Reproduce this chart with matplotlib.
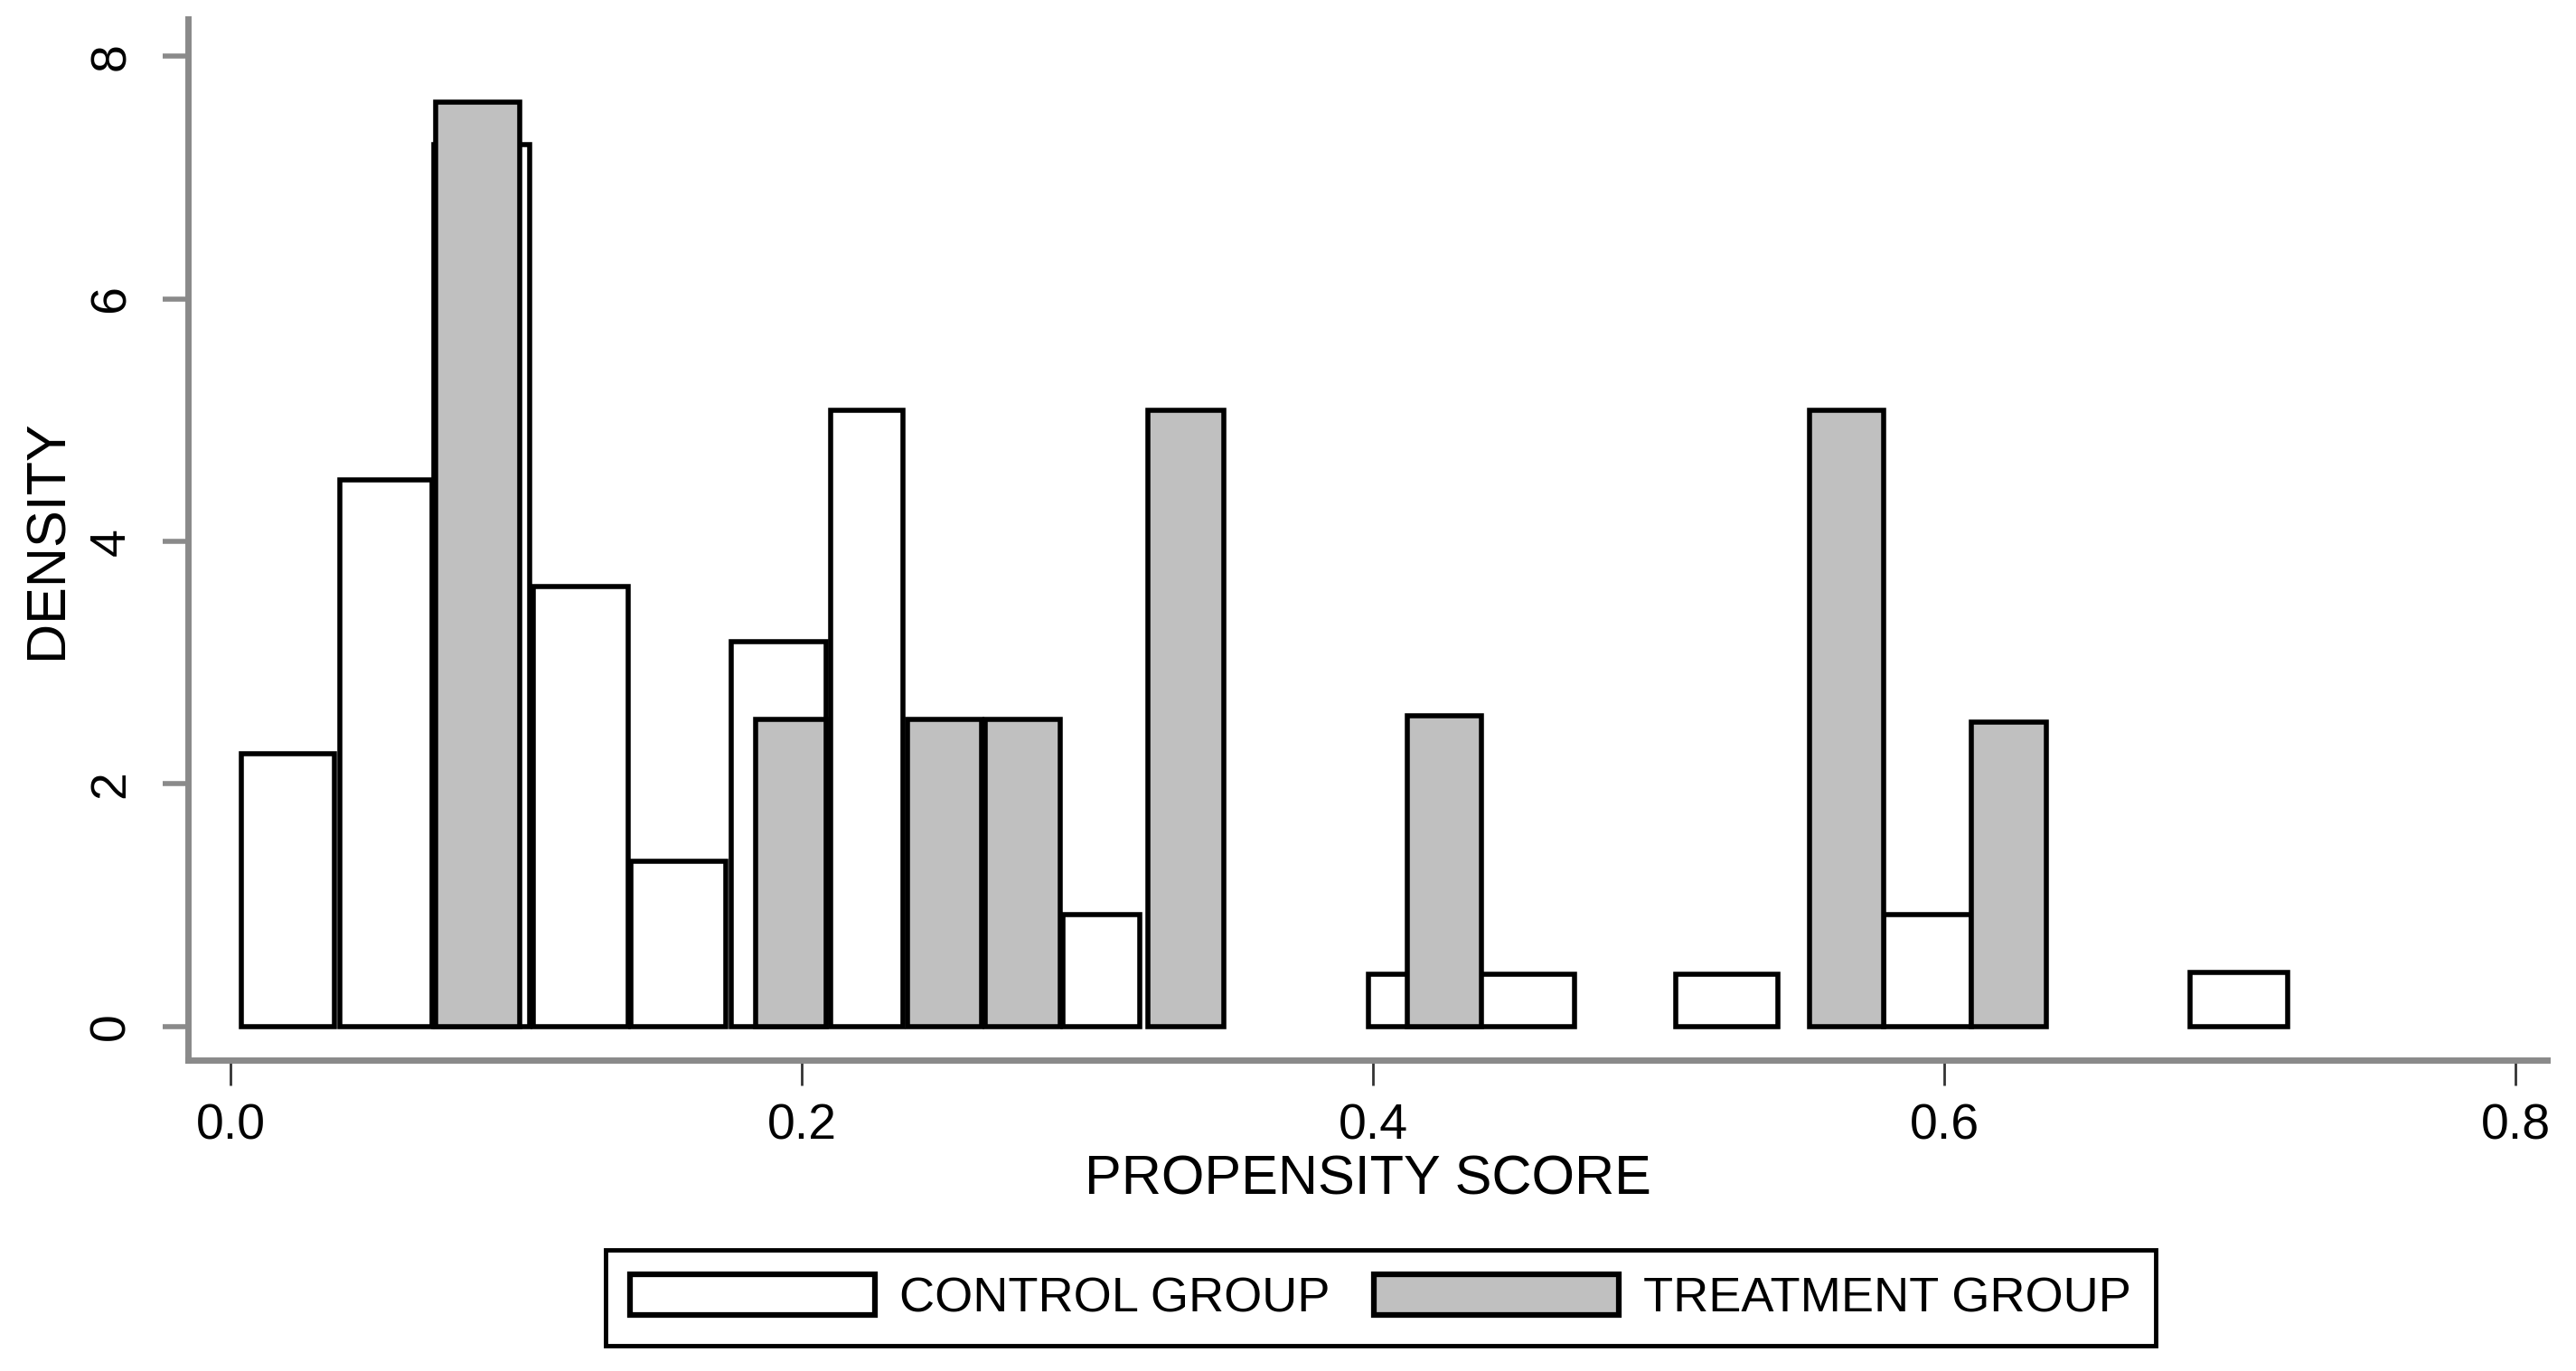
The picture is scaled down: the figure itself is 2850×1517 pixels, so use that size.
import matplotlib
matplotlib.use("Agg")
import matplotlib.pyplot as plt
from matplotlib import font_manager
from matplotlib.patches import Patch

# bin edges (propensity score) and densities
control_left = [0.0037, 0.0380, 0.0712, 0.1060, 0.1402, 0.1753, 0.2099, 0.2912, 0.3982, 0.5059, 0.5787, 0.6860]
control_right = [0.0364, 0.0703, 0.1046, 0.1390, 0.1732, 0.2083, 0.2352, 0.3181, 0.4703, 0.5415, 0.6094, 0.7202]
control_density = [2.25, 4.51, 7.27, 3.63, 1.36, 3.17, 5.08, 0.92, 0.435, 0.435, 0.92, 0.45]

treat_left = [0.0717, 0.1838, 0.2368, 0.2640, 0.3210, 0.4118, 0.5527, 0.6094]
treat_right = [0.1010, 0.2083, 0.2627, 0.2903, 0.3476, 0.4378, 0.5787, 0.6358]
treat_density = [7.62, 2.53, 2.53, 2.53, 5.08, 2.56, 5.08, 2.51]

x_ticks = [0.0, 0.2, 0.4, 0.6, 0.8]
y_ticks = [0, 2, 4, 6, 8]

names = {f.name for f in font_manager.fontManager.ttflist}
if "Liberation Sans Narrow" in names:
    plt.rcParams["font.family"] = ["Liberation Sans Narrow", "DejaVu Sans"]
else:
    plt.rcParams["font.family"] = ["Liberation Sans", "DejaVu Sans"]

GRAY_FILL = "#c0c0c0"
AXIS_GRAY = "#8a8a8a"

fig = plt.figure(figsize=(28.5, 15.17), dpi=100)
ax = fig.add_axes([0.073, 0.2268, 0.9158, 0.7596])

c_width = [r - l for l, r in zip(control_left, control_right)]
t_width = [r - l for l, r in zip(treat_left, treat_right)]

ax.bar(control_left, control_density, width=c_width, align="edge",
       color="white", edgecolor="black", linewidth=4, zorder=2)
ax.bar(treat_left, treat_density, width=t_width, align="edge",
       color=GRAY_FILL, edgecolor="black", linewidth=4, zorder=3)

ax.set_xlim(-0.015, 0.811)
ax.set_ylim(-0.276, 8.31)

for side in ["top", "right"]:
    ax.spines[side].set_visible(False)
for side in ["left", "bottom"]:
    ax.spines[side].set_color(AXIS_GRAY)
    ax.spines[side].set_linewidth(5)

ax.set_xticks(x_ticks)
ax.set_xticklabels([f"{v:.1f}" for v in x_ticks])
ax.set_yticks(y_ticks)
ax.set_yticklabels([str(v) for v in y_ticks], rotation=90, va="center")

ax.tick_params(axis="x", length=20, width=2, color="#333333",
               labelsize=40, pad=14)
ax.tick_params(axis="y", length=20, width=4, color=AXIS_GRAY,
               labelsize=40, pad=22)

ax.set_xlabel("PROPENSITY SCORE", fontsize=44, labelpad=4)
ax.set_ylabel("DENSITY", fontsize=44, labelpad=12)

handles = [Patch(facecolor="white", edgecolor="black", linewidth=4.5),
           Patch(facecolor=GRAY_FILL, edgecolor="black", linewidth=4.5)]
leg = fig.legend(handles, ["CONTROL GROUP", "TREATMENT GROUP"],
                 loc="center", bbox_to_anchor=(0.536, 0.0534), ncol=2,
                 fontsize=39, handlelength=5.0, handleheight=0.92,
                 handletextpad=0.5, columnspacing=0.9, borderpad=0.5,
                 fancybox=False, framealpha=1)
leg.get_frame().set_edgecolor("black")
leg.get_frame().set_linewidth(3.5)

fig.savefig("out.png", dpi=100, facecolor="white")
